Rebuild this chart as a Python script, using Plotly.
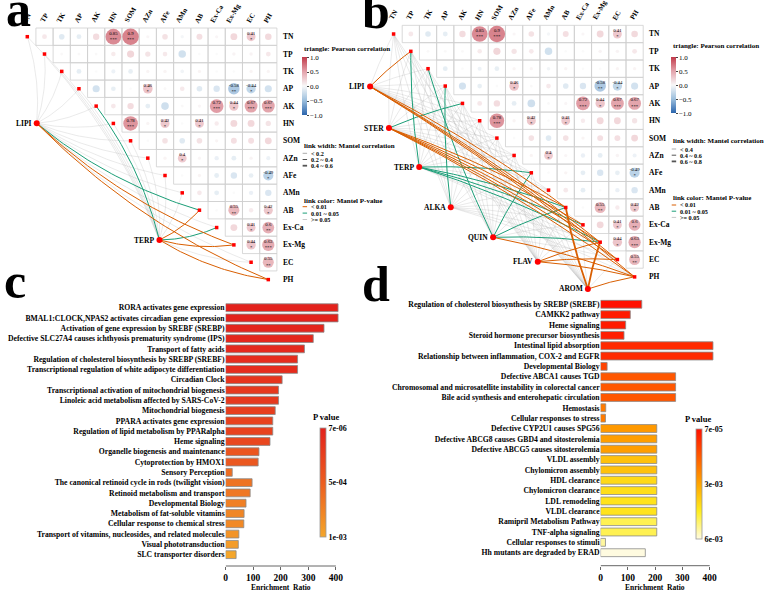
import numpy as np
import plotly.graph_objects as go

W, H = 765, 590
SERIF = "Liberation Serif"

# ---------------- data ----------------
env_vars = ["TN", "TP", "TK", "AP", "AK", "HN", "SOM", "AZn", "AFe", "AMn",
            "AB", "Ex-Ca", "Ex-Mg", "EC", "PH"]

# Pearson r between soil variables (upper triangle, one list per row)
r_TN = [0.15, -0.20, -0.15, 0.25, 0.85, 0.90, 0.04, 0.20, -0.05, 0.22, 0.04, 0.28, 0.41, 0.26]
r_TP = [0.02, 0.02, 0.02, 0.13, 0.30, 0.18, 0.14, -0.32, 0.0, 0.0, 0.06, 0.06, 0.15]
r_TK = [-0.15, 0.0, -0.10, -0.14, 0.05, 0.05, -0.07, 0.05, 0.0, 0.0, 0.05, 0.05]
r_AP = [-0.30, -0.14, 0.0, 0.46, 0.02, 0.14, -0.20, -0.25, -0.58, -0.44, -0.30]
r_AK = [0.15, 0.25, -0.15, -0.33, 0.02, 0.04, 0.72, 0.44, 0.67, 0.67]
r_HN = [0.78, 0.05, 0.42, 0.0, 0.41, 0.12, 0.28, 0.28, 0.18]
r_SOM = [0.0, 0.20, -0.20, 0.20, 0.05, 0.22, 0.22, 0.28]
r_AZn = [0.05, 0.40, 0.04, -0.12, -0.15, 0.06, -0.10]
r_AFe = [0.0, 0.05, -0.15, -0.25, -0.14, -0.49]
r_AMn = [0.14, -0.15, 0.0, -0.12, -0.25]
r_AB = [0.0, 0.55, 0.12, 0.42]
r_ExCa = [0.28, 0.41, 0.60]
r_ExMg = [0.44, 0.63]
r_EC = [0.55]
pearson_rows = [r_TN, r_TP, r_TK, r_AP, r_AK, r_HN, r_SOM, r_AZn, r_AFe, r_AMn,
                r_AB, r_ExCa, r_ExMg, r_EC]

# Mantel tests, panel a (one list per metabolite group, order = env_vars)
mantel_a_nodes = ["LIPI", "TERP"]
mantel_a_r_LIPI = [0.10, 0.12, 0.08, 0.10, 0.12, 0.10, 0.10, 0.08, 0.10, 0.08, 0.30, 0.12, 0.30, 0.12, 0.28]
mantel_a_p_LIPI = [0.30, 0.30, 0.40, 0.30, 0.20, 0.30, 0.30, 0.40, 0.30, 0.40, 0.03, 0.20, 0.005, 0.20, 0.008]
mantel_a_r_TERP = [0.10, 0.10, 0.08, 0.10, 0.25, 0.10, 0.10, 0.08, 0.10, 0.08, 0.30, 0.25, 0.35, 0.12, 0.35]
mantel_a_p_TERP = [0.30, 0.30, 0.40, 0.30, 0.02, 0.30, 0.30, 0.40, 0.30, 0.40, 0.004, 0.03, 0.003, 0.10, 0.002]

# Mantel tests, panel b
mantel_b_nodes = ["LIPI", "STER", "TERP", "ALKA", "QUIN", "FLAV", "AROM"]
mantel_b_r_LIPI = [0.3, 0.45, 0.3, 0.3, 0.3, 0.3, 0.3, 0.3, 0.3, 0.3, 0.42, 0.3, 0.42, 0.42, 0.42]
mantel_b_p_LIPI = [0.3, 0.005, 0.3, 0.3, 0.3, 0.3, 0.3, 0.3, 0.3, 0.3, 0.005, 0.2, 0.005, 0.008, 0.005]
mantel_b_r_STER = [0.3, 0.3, 0.3, 0.3, 0.42, 0.3, 0.3, 0.3, 0.3, 0.3, 0.42, 0.42, 0.42, 0.42, 0.42]
mantel_b_p_STER = [0.3, 0.3, 0.3, 0.3, 0.03, 0.3, 0.3, 0.3, 0.3, 0.3, 0.005, 0.006, 0.005, 0.007, 0.005]
mantel_b_r_TERP = [0.3, 0.42, 0.3, 0.3, 0.3, 0.3, 0.3, 0.3, 0.42, 0.3, 0.42, 0.42, 0.42, 0.3, 0.3]
mantel_b_p_TERP = [0.3, 0.03, 0.3, 0.3, 0.3, 0.3, 0.3, 0.3, 0.03, 0.3, 0.03, 0.03, 0.03, 0.3, 0.3]
mantel_b_r_ALKA = [0.3, 0.3, 0.3, 0.42, 0.3, 0.3, 0.3, 0.3, 0.3, 0.3, 0.3, 0.3, 0.3, 0.3, 0.3]
mantel_b_p_ALKA = [0.3, 0.3, 0.3, 0.03, 0.3, 0.3, 0.3, 0.3, 0.3, 0.3, 0.3, 0.3, 0.3, 0.3, 0.3]
mantel_b_r_QUIN = [0.3, 0.3, 0.42, 0.3, 0.3, 0.3, 0.3, 0.3, 0.42, 0.3, 0.42, 0.3, 0.42, 0.3, 0.42]
mantel_b_p_QUIN = [0.3, 0.3, 0.03, 0.3, 0.3, 0.3, 0.3, 0.3, 0.03, 0.3, 0.03, 0.3, 0.03, 0.3, 0.005]
mantel_b_r_FLAV = [0.3, 0.3, 0.3, 0.3, 0.3, 0.3, 0.3, 0.3, 0.3, 0.3, 0.3, 0.3, 0.45, 0.42, 0.45]
mantel_b_p_FLAV = [0.3, 0.3, 0.3, 0.3, 0.3, 0.3, 0.3, 0.3, 0.3, 0.3, 0.3, 0.3, 0.005, 0.008, 0.005]
mantel_b_r_AROM = [0.3, 0.3, 0.3, 0.3, 0.3, 0.3, 0.3, 0.3, 0.3, 0.3, 0.65, 0.3, 0.65, 0.3, 0.45]
mantel_b_p_AROM = [0.3, 0.3, 0.3, 0.3, 0.3, 0.3, 0.3, 0.3, 0.3, 0.3, 0.005, 0.2, 0.005, 0.2, 0.005]

# Enrichment, panel c
c_terms = ["RORA activates gene expression",
           "BMAL1:CLOCK,NPAS2 activates circadian gene expression",
           "Activation of gene expression by SREBF (SREBP)",
           "Defective SLC27A4 causes ichthyosis prematurity syndrome (IPS)",
           "Transport of fatty acids",
           "Regulation of cholesterol biosynthesis by SREBP (SREBF)",
           "Transcriptional regulation of white adipocyte differentiation",
           "Circadian Clock",
           "Transcriptional activation of mitochondrial biogenesis",
           "Linoleic acid metabolism affected by SARS-CoV-2",
           "Mitochondrial biogenesis",
           "PPARA activates gene expression",
           "Regulation of lipid metabolism by PPARalpha",
           "Heme signaling",
           "Organelle biogenesis and maintenance",
           "Cytoprotection by HMOX1",
           "Sensory Perception",
           "The canonical retinoid cycle in rods (twilight vision)",
           "Retinoid metabolism and transport",
           "Developmental Biology",
           "Metabolism of fat-soluble vitamins",
           "Cellular response to chemical stress",
           "Transport of vitamins, nucleosides, and related molecules",
           "Visual phototransduction",
           "SLC transporter disorders"]
c_ratio = [408, 408, 357, 318, 286, 261, 261, 205, 192, 192, 180, 171, 171, 161,
           121, 118, 24, 96, 89, 74, 67, 66, 48, 46, 38]
c_pval = [7e-6, 7e-6, 3e-5, 5e-5, 7e-5, 9e-5, 9e-5, 1.6e-4, 2e-4, 2e-4, 2.4e-4, 2.8e-4,
          2.8e-4, 3.2e-4, 4.4e-4, 4.6e-4, 6.2e-4, 6.5e-4, 6.8e-4, 7.4e-4, 7.8e-4, 8e-4,
          8.8e-4, 9.3e-4, 1e-3]

# Enrichment, panel d
d_terms = ["Regulation of cholesterol biosynthesis by SREBP (SREBF)",
           "CAMKK2 pathway",
           "Heme signaling",
           "Steroid hormone precursor biosynthesis",
           "Intestinal lipid absorption",
           "Relationship between inflammation, COX-2 and EGFR",
           "Developmental Biology",
           "Defective ABCA1 causes TGD",
           "Chromosomal and microsatellite instability in colorectal cancer",
           "Bile acid synthesis and enterohepatic circulation",
           "Hemostasis",
           "Cellular responses to stress",
           "Defective CYP2U1 causes SPG56",
           "Defective ABCG8 causes GBD4 and sitosterolemia",
           "Defective ABCG5 causes sitosterolemia",
           "VLDL assembly",
           "Chylomicron assembly",
           "HDL clearance",
           "Chylomicron clearance",
           "LDL remodeling",
           "VLDL clearance",
           "Ramipril Metabolism Pathway",
           "TNF-alpha signaling",
           "Cellular responses to stimuli",
           "Hh mutants are degraded by ERAD"]
d_ratio = [151, 109, 92, 86, 412, 412, 24, 275, 275, 275, 19, 18, 206, 206, 206, 206,
           206, 206, 206, 206, 206, 206, 206, 18, 164]
d_pval = [7e-5, 3e-4, 3e-4, 3.5e-4, 6e-4, 6e-4, 1.1e-3, 1.5e-3, 1.5e-3, 1.5e-3, 2.2e-3,
          2.2e-3, 2.8e-3, 2.9e-3, 2.9e-3, 3.6e-3, 3.6e-3, 4.1e-3, 4.2e-3, 4.3e-3, 4.3e-3,
          4.9e-3, 4.9e-3, 5.5e-3, 6e-3]

# ---------------- styling / layout constants ----------------
CELL = 17.35
ORANGE, GREEN, GREY = "#D95F02", "#1B9E77", "rgba(160,160,160,0.45)"
LINK_W = [0.5, 1.0, 1.8]
CORR_SCALE = [[0, "#2b65ad"], [0.25, "#9cbfdd"], [0.5, "#f8f8f8"],
              [0.75, "#e3a2aa"], [1, "#c13a4a"]]

PANEL_A = dict(x0=25.5, y0=36.7, xa="x", ya="y")
PANEL_B = dict(x0=394.7, y0=34.0, xa="x2", ya="y2")
NODES_A_PX = [(35, 123.3), (158.7, 240)]
NODES_B_PX = [(371, 86.5), (390, 128), (420.5, 167), (452.3, 207.3), (495, 237.3),
              (540, 261.7), (590.5, 289)]

fig = go.Figure()
annotations = []
shapes = []


def px(x, y):
    return x / W, 1 - y / H


def to_cell(panel, x, y):
    return (x - panel["x0"]) / CELL, (y - panel["y0"]) / CELL


def bezier(p0, p1, c, n=40):
    p0, p1 = np.array(p0, float), np.array(p1, float)
    d = p1 - p0
    ctrl = (p0 + p1) / 2 + c * np.array([-d[1], d[0]])
    t = np.linspace(0, 1, n)[:, None]
    pts = (1 - t) ** 2 * p0 + 2 * (1 - t) * t * ctrl + t ** 2 * p1
    return list(pts[:, 0]), list(pts[:, 1])


def text(x, y, s, size=8, xanchor="left", yanchor="middle", xref="paper", yref="paper",
         angle=0, color="black"):
    if xref == "paper":
        x, y = px(x, y)
    annotations.append(dict(x=x, y=y, xref=xref, yref=yref, text=s, showarrow=False,
                            xanchor=xanchor, yanchor=yanchor, textangle=angle,
                            font=dict(family=SERIF, size=size, color=color, weight="bold")))


n = len(env_vars)
R = np.zeros((n, n))
for i, row in enumerate(pearson_rows):
    R[i, i + 1:] = row


def draw_panel(panel, nodes, nodes_px, r_lists, p_lists, r_bins, curv,
               cbar_x, cbar_len, label_x):
    xa, ya = panel["xa"], panel["ya"]
    # grid
    gx, gy = [], []
    for i in range(n):
        for j in range(i + 1, n):
            gx += [j - .5, j + .5, j + .5, j - .5, j - .5, None]
            gy += [i - .5, i - .5, i + .5, i + .5, i - .5, None]
    fig.add_trace(go.Scatter(x=gx, y=gy, mode="lines", xaxis=xa, yaxis=ya,
                             line=dict(color="#cfcfcf", width=0.8), hoverinfo="skip",
                             showlegend=False))
    # links
    node_cells = [to_cell(panel, *p) for p in nodes_px]
    layers = {0: [], 1: [], 2: []}
    for k, name in enumerate(nodes):
        for e in range(n):
            p, r = p_lists[k][e], r_lists[k][e]
            cls = 0 if p < 0.01 else (1 if p < 0.05 else 2)
            wcls = int(np.searchsorted(r_bins, r, side="right"))
            layers[cls].append((node_cells[k], (e, e), LINK_W[min(wcls, 2)]))
    for cls, col in [(2, GREY), (1, GREEN), (0, ORANGE)]:
        for p0, p1, w in layers[cls]:
            bx, by = bezier(p0, p1, curv)
            fig.add_trace(go.Scatter(x=bx, y=by, mode="lines", xaxis=xa, yaxis=ya,
                                     line=dict(color=col, width=w), hoverinfo="skip",
                                     showlegend=False))
    # correlation circles
    cx, cy, cv = [], [], []
    for i in range(n):
        for j in range(i + 1, n):
            cx.append(j); cy.append(i); cv.append(R[i, j])
    cv = np.array(cv)
    fig.add_trace(go.Scatter(
        x=cx, y=cy, mode="markers", xaxis=xa, yaxis=ya, hoverinfo="skip", showlegend=False,
        marker=dict(size=2.5 + 15.5 * np.abs(cv), color=cv, cmin=-1, cmax=1,
                    colorscale=CORR_SCALE, line=dict(width=0),
                    colorbar=dict(x=cbar_x / W, xanchor="left", y=1 - 57.5 / H, yanchor="top",
                                  lenmode="pixels", len=cbar_len, thickness=5, xpad=0, ypad=0,
                                  outlinewidth=0, ticks="outside", ticklen=2,
                                  tickvals=[1, 0.5, 0, -0.5, -1],
                                  ticktext=["1.0", "0.5", "0.0", "\u22120.5", "\u22121.0"],
                                  tickfont=dict(family=SERIF, size=7, color="black")))))
    # significant values
    tx, ty, tt = [], [], []
    for x_, y_, v in zip(cx, cy, cv):
        if abs(v) >= 0.395:
            stars = "***" if abs(v) >= 0.625 else ("**" if abs(v) >= 0.5 else "*")
            tx.append(x_); ty.append(y_); tt.append(f"{round(v, 2):g}<br>{stars}")
    fig.add_trace(go.Scatter(x=tx, y=ty, mode="text", text=tt, xaxis=xa, yaxis=ya,
                             hoverinfo="skip", showlegend=False,
                             textfont=dict(family=SERIF, size=4.8, color="black")))
    # diagonal points and nodes
    fig.add_trace(go.Scatter(x=list(range(n)), y=list(range(n)), mode="markers",
                             xaxis=xa, yaxis=ya, hoverinfo="skip", showlegend=False,
                             marker=dict(size=3.5, color="red", symbol="square")))
    fig.add_trace(go.Scatter(x=[c[0] for c in node_cells], y=[c[1] for c in node_cells],
                             mode="markers", xaxis=xa, yaxis=ya, hoverinfo="skip",
                             showlegend=False, marker=dict(size=6, color="red")))
    for name, (x_, y_) in zip(nodes, nodes_px):
        text(x_ - 3, y_, name, size=7.5, xanchor="right")
    # labels
    for j, v in enumerate(env_vars):
        text(j, -0.56, v, size=7, xanchor="center", yanchor="bottom",
             xref=xa, yref=ya, angle=-60)
        text(label_x, panel["y0"] + j * CELL, v, size=7.5)


draw_panel(PANEL_A, mantel_a_nodes, NODES_A_PX,
           [mantel_a_r_LIPI, mantel_a_r_TERP], [mantel_a_p_LIPI, mantel_a_p_TERP],
           [0.2, 0.4], 0.1, 302.5, 57.5, 281)
draw_panel(PANEL_B, mantel_b_nodes, NODES_B_PX,
           [mantel_b_r_LIPI, mantel_b_r_STER, mantel_b_r_TERP, mantel_b_r_ALKA,
            mantel_b_r_QUIN, mantel_b_r_FLAV, mantel_b_r_AROM],
           [mantel_b_p_LIPI, mantel_b_p_STER, mantel_b_p_TERP, mantel_b_p_ALKA,
            mantel_b_p_QUIN, mantel_b_p_FLAV, mantel_b_p_AROM],
           [0.4, 0.6], -0.04, 674, 56, 650)


# legends for a / b
def link_legend(x, yw, yc, wlabels):
    text(x, yw[0], "link width: Mantel correlation", size=7)
    for k, (lab, w) in enumerate(zip(wlabels, LINK_W)):
        shapes.append(dict(type="line", xref="paper", yref="paper",
                           x0=(x + 1) / W, x1=(x + 5.5) / W, y0=1 - yw[k + 1] / H,
                           y1=1 - yw[k + 1] / H, line=dict(color="#555", width=w)))
        text(x + 7.5, yw[k + 1], lab, size=6.2)
    text(x, yc[0], "link color: Mantel P-value", size=7)
    for k, (lab, col) in enumerate(zip(["< 0.01", "0.01 ~ 0.05", ">= 0.05"],
                                       [ORANGE, GREEN, "#c8c8c8"])):
        shapes.append(dict(type="line", xref="paper", yref="paper",
                           x0=(x + 1) / W, x1=(x + 5.5) / W, y0=1 - yc[k + 1] / H,
                           y1=1 - yc[k + 1] / H, line=dict(color=col, width=1)))
        text(x + 7.5, yc[k + 1], lab, size=6.2)


text(302, 49, "triangle: Pearson correlation", size=7)
link_legend(302, [146, 153.3, 159.5, 165.7], [201, 206.7, 213.1, 219.5],
            ["< 0.2", "0.2 ~ 0.4", "0.4 ~ 0.6"])
text(674, 46.3, "triangle: Pearson correlation", size=7)
link_legend(674, [141.5, 149, 155.2, 161.4], [197.7, 205, 211.2, 217.4],
            ["< 0.4", "0.4 ~ 0.6", "0.6 ~ 0.8"])


# ---------------- bar panels ----------------
def bar_panel(xa, ya, terms, ratio, pval, x0px, x400px, first_y, step, rng_max,
              cscale, pmin, pmax, tick_mid, ticktext, cbar_x, cbar_top, cbar_len,
              title_xy, axis_y):
    fig.add_trace(go.Bar(
        y=terms, x=ratio, orientation="h", xaxis=xa, yaxis=ya, width=0.76,
        hoverinfo="skip", showlegend=False,
        marker=dict(color=[-p for p in pval], cmin=-pmax, cmax=-pmin, colorscale=cscale,
                    line=dict(color="#8a8a8a", width=0.8),
                    colorbar=dict(x=cbar_x / W, xanchor="left", y=1 - cbar_top / H,
                                  yanchor="top", lenmode="pixels", len=cbar_len,
                                  thickness=6, xpad=0, ypad=0, outlinewidth=0.8,
                                  outlinecolor="#999", ticks="",
                                  tickvals=[-pmin, -tick_mid, -pmax], ticktext=ticktext,
                                  tickfont=dict(family=SERIF, size=8, color="black",
                                                weight="bold")))))
    scale = (x400px - x0px) / 400
    right = x0px + rng_max * scale
    bottom_k = (axis_y - first_y) / step
    top_px = first_y - 7
    lay = {}
    lay["xaxis" + xa[1:]] = dict(domain=[x0px / W, right / W], range=[0, rng_max],
                                 anchor=ya, showgrid=False, zeroline=False, showline=False,
                                 ticks="outside", ticklen=3, tickcolor="#666",
                                 tickvals=[0, 100, 200, 300, 400],
                                 tickfont=dict(family=SERIF, size=9.5, color="black",
                                               weight="bold"))
    lay["yaxis" + ya[1:]] = dict(domain=[1 - axis_y / H, 1 - top_px / H],
                                 range=[bottom_k, (top_px - first_y) / step], anchor=xa,
                                 type="category", showgrid=False, zeroline=False,
                                 showline=False, ticks="",
                                 tickfont=dict(family=SERIF, size=7.7, color="black",
                                               weight="bold"))
    fig.update_layout(**lay)
    shapes.append(dict(type="line", xref=xa, yref="paper", x0=0, x1=400,
                       y0=1 - axis_y / H, y1=1 - axis_y / H,
                       line=dict(color="#666", width=1)))
    text(title_xy[0], title_xy[1], "P value", size=8.5, xanchor="center")
    text((x0px + x400px) / 2, 587.5, "Enrichment  Ratio", size=7.5, xanchor="center")


C_SCALE = [[0, "#f4a62a"], [0.5, "#ec5d20"], [1, "#e3221c"]]
D_SCALE = [[0, "#fffbe0"], [0.25, "#ffee20"], [0.5, "#ffa500"], [0.75, "#ff5a00"],
           [1, "#ff1000"]]
bar_panel("x3", "y3", c_terms, c_ratio, c_pval, 225.4, 336.5, 307.7, 10.29, 412,
          C_SCALE, 7e-6, 1e-3, 5.035e-4, ["7e-06", "5e-04", "1e-03"], 321, 428, 109,
          (327, 417), 566)
bar_panel("x4", "y4", d_terms, d_ratio, d_pval, 603.3, 713.3, 304.3, 10.35, 416,
          D_SCALE, 7e-5, 6e-3, 3.035e-3, ["7e-05", "3e-03", "6e-03"], 699, 429, 110,
          (702, 419), 565.7)

# panel letters (x, bottom of text box)
for letter, (x_, y_) in zip("abcd", [(2, 39), (361, 41), (0, 311), (361, 314)]):
    text(x_, y_, letter, size=50, yanchor="bottom")


# overlay axes for the correlation panels (cell units, full figure)
def cell_axes(panel):
    return (dict(domain=[0, 1], range=[(0 - panel["x0"]) / CELL, (W - panel["x0"]) / CELL],
                 visible=False, fixedrange=True),
            dict(domain=[0, 1], range=[(H - panel["y0"]) / CELL, (0 - panel["y0"]) / CELL],
                 visible=False, fixedrange=True))


xa1, ya1 = cell_axes(PANEL_A)
xa2, ya2 = cell_axes(PANEL_B)
fig.update_layout(
    width=W, height=H, margin=dict(l=0, r=0, t=0, b=0),
    paper_bgcolor="white", plot_bgcolor="rgba(0,0,0,0)",
    xaxis=dict(xa1, anchor="y"), yaxis=dict(ya1, anchor="x"),
    xaxis2=dict(xa2, anchor="y2"), yaxis2=dict(ya2, anchor="x2"),
    annotations=annotations, shapes=shapes, showlegend=False,
)
fig.write_html("out.html")
